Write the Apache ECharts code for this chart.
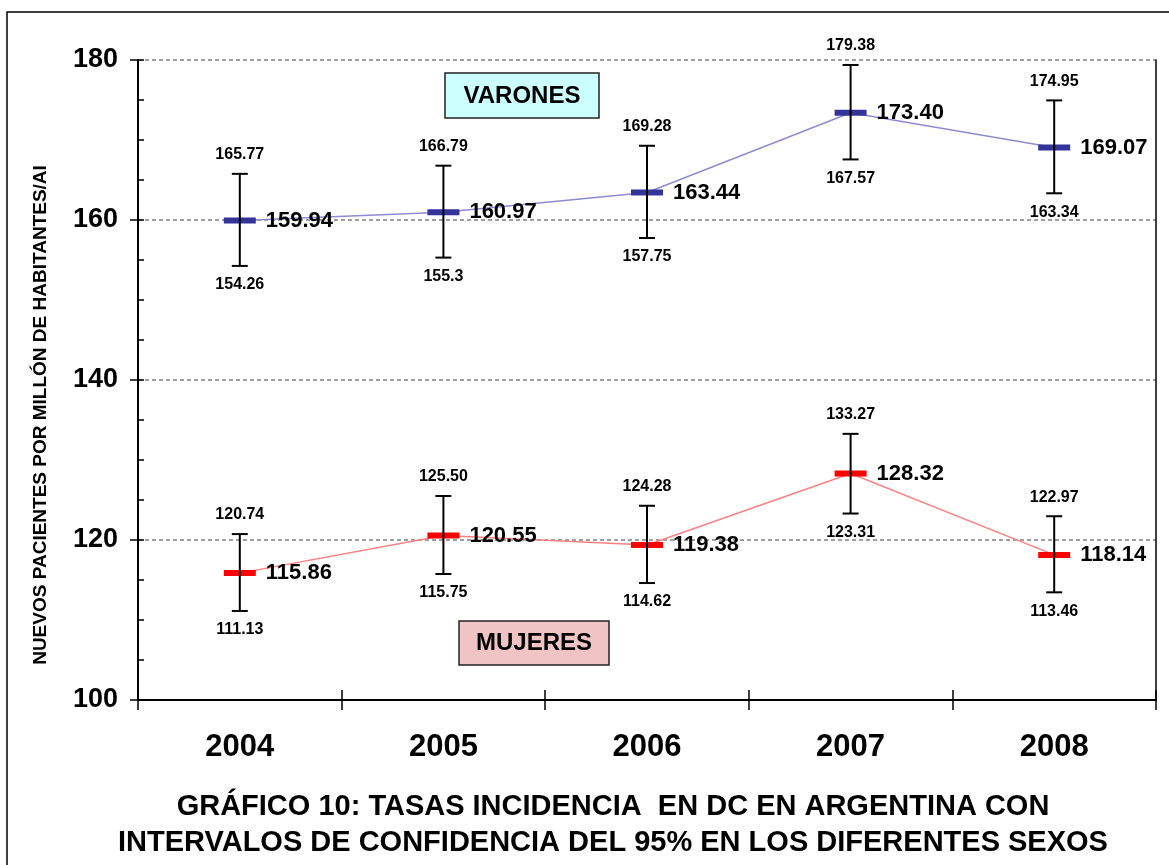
<!DOCTYPE html>
<html>
<head>
<meta charset="utf-8">
<script src="https://cdn.jsdelivr.net/npm/echarts@6/dist/echarts.min.js"></script>
<style>
  html, body { margin: 0; padding: 0; background: #fff; }
  #chart { width: 1169px; height: 865px; }
</style>
</head>
<body>
<div id="chart"></div>
<script>
const years = ['2004', '2005', '2006', '2007', '2008'];

// tasas (varones)
const varonesMean = [159.94, 160.97, 163.44, 173.40, 169.07];
const varonesLow = ['154.26', '155.3', '157.75', '167.57', '163.34'];
const varonesHigh = ['165.77', '166.79', '169.28', '179.38', '174.95'];

// tasas (mujeres)
const mujeresMean = [115.86, 120.55, 119.38, 128.32, 118.14];
const mujeresLow = ['111.13', '115.75', '114.62', '123.31', '113.46'];
const mujeresHigh = ['120.74', '125.50', '124.28', '133.27', '122.97'];

const yTicks = [100, 120, 140, 160, 180];

const FONT = '"Liberation Sans", Arial, sans-serif';

const errorBars = (low, high) => ({
    type: 'custom',
    xAxisIndex: 0,
    yAxisIndex: 0,
    z: 5,
    data: years.map((y, i) => [i, Number(low[i]), Number(high[i])]),
    renderItem: (params, api) => {
        const i = params.dataIndex;
        const lo = api.coord([api.value(0), api.value(1)]);
        const hi = api.coord([api.value(0), api.value(2)]);
        const cap = 8;
        const st = { stroke: '#000', lineWidth: 2 };
        const txt = (text, y) => ({
            type: 'text',
            x: lo[0],
            y: y,
            style: {
                text: text,
                fill: '#000',
                font: 'bold 16px ' + FONT,
                align: 'center',
                verticalAlign: 'middle'
            }
        });
        return {
            type: 'group',
            children: [
                { type: 'line', shape: { x1: hi[0], y1: hi[1], x2: lo[0], y2: lo[1] }, style: st },
                { type: 'line', shape: { x1: hi[0] - cap, y1: hi[1], x2: hi[0] + cap, y2: hi[1] }, style: st },
                { type: 'line', shape: { x1: lo[0] - cap, y1: lo[1], x2: lo[0] + cap, y2: lo[1] }, style: st },
                txt(high[i], hi[1] - 19),
                txt(low[i], lo[1] + 19)
            ]
        };
    }
});

const meanLine = (data, lineColor, markColor) => ({
    type: 'line',
    xAxisIndex: 0,
    yAxisIndex: 0,
    data: data,
    symbol: 'rect',
    symbolSize: [32, 6],
    z: 4,
    lineStyle: { color: lineColor, width: 1.5 },
    itemStyle: { color: markColor },
    label: {
        show: true,
        position: 'right',
        distance: 10,
        formatter: p => p.value.toFixed(2),
        color: '#000',
        fontFamily: FONT,
        fontWeight: 'bold',
        fontSize: 22
    },
    emphasis: { disabled: true },
    animation: false
});

const chart = echarts.init(document.getElementById('chart'));
chart.setOption({
    animation: false,
    title: {
        text: 'GRÁFICO 10: TASAS INCIDENCIA  EN DC EN ARGENTINA CON\nINTERVALOS DE CONFIDENCIA DEL 95% EN LOS DIFERENTES SEXOS',
        left: 608,
        top: 784,
        textAlign: 'center',
        textStyle: {
            fontFamily: FONT,
            fontWeight: 'bold',
            fontSize: 29,
            lineHeight: 36,
            color: '#000'
        }
    },
    grid: { left: 138, right: 13, top: 60, bottom: 165 },
    xAxis: [
        {
            type: 'category',
            data: years,
            boundaryGap: true,
            axisLine: { lineStyle: { color: '#000', width: 2 } },
            axisTick: { show: true, length: 10, lineStyle: { color: '#000', width: 1.5 } },
            axisLabel: {
                margin: 32,
                color: '#000',
                fontFamily: FONT,
                fontWeight: 'bold',
                fontSize: 31
            },
            splitLine: { show: false }
        },
        {
            type: 'category',
            data: years,
            position: 'bottom',
            boundaryGap: true,
            axisLine: { show: false },
            axisTick: { show: true, inside: true, length: 10, lineStyle: { color: '#000', width: 1.5 } },
            axisLabel: { show: false },
            splitLine: { show: false }
        }
    ],
    yAxis: [
        {
            type: 'value',
            min: yTicks[0],
            max: yTicks[yTicks.length - 1],
            interval: 20,
            axisLine: { show: true, lineStyle: { color: '#000', width: 2 } },
            axisTick: { show: true, length: 8, lineStyle: { color: '#000', width: 1.5 } },
            axisLabel: {
                margin: 20,
                color: '#000',
                fontFamily: FONT,
                fontWeight: 'bold',
                fontSize: 27
            },
            splitLine: {
                show: true,
                lineStyle: { color: '#808080', type: [4, 3], width: 1.5 }
            }
        },
        {
            // marcas menores hacia adentro, cada 5
            type: 'value',
            min: yTicks[0],
            max: yTicks[yTicks.length - 1],
            interval: 5,
            position: 'left',
            axisLine: { show: false },
            axisTick: { show: true, inside: true, length: 6, lineStyle: { color: '#000', width: 1.5 } },
            axisLabel: { show: false },
            splitLine: { show: false }
        },
        {
            type: 'value',
            min: yTicks[0],
            max: yTicks[yTicks.length - 1],
            interval: 20,
            position: 'right',
            axisLine: { show: true, lineStyle: { color: '#000', width: 1.5 } },
            axisTick: { show: false },
            axisLabel: { show: false },
            splitLine: { show: false }
        }
    ],
    graphic: [
        {
            type: 'rect',
            shape: { x: 7, y: 12, width: 1200, height: 900 },
            style: { fill: 'none', stroke: '#000', lineWidth: 1.5 },
            silent: true
        },
        {
            type: 'text',
            x: 41,
            y: 415,
            rotation: Math.PI / 2,
            style: {
                text: 'NUEVOS PACIENTES POR MILLÓN DE HABITANTES/AI',
                font: 'bold 19px ' + FONT,
                fill: '#000',
                align: 'center',
                verticalAlign: 'middle'
            }
        },
        {
            type: 'group',
            children: [
                {
                    type: 'rect',
                    shape: { x: 445, y: 73, width: 154, height: 45 },
                    style: { fill: '#CCFFFF', stroke: '#222', lineWidth: 1.5 }
                },
                {
                    type: 'text',
                    x: 522,
                    y: 96,
                    style: {
                        text: 'VARONES',
                        font: 'bold 24px ' + FONT,
                        fill: '#000',
                        align: 'center',
                        verticalAlign: 'middle'
                    }
                }
            ]
        },
        {
            type: 'group',
            children: [
                {
                    type: 'rect',
                    shape: { x: 459, y: 621, width: 150, height: 44 },
                    style: { fill: '#F0C4C4', stroke: '#222', lineWidth: 1.5 }
                },
                {
                    type: 'text',
                    x: 534,
                    y: 643,
                    style: {
                        text: 'MUJERES',
                        font: 'bold 24px ' + FONT,
                        fill: '#000',
                        align: 'center',
                        verticalAlign: 'middle'
                    }
                }
            ]
        }
    ],
    series: [
        meanLine(varonesMean, '#8c8cd0', '#333399'),
        meanLine(mujeresMean, '#ff8080', '#ff0000'),
        errorBars(varonesLow, varonesHigh),
        errorBars(mujeresLow, mujeresHigh)
    ]
});
</script>
</body>
</html>
